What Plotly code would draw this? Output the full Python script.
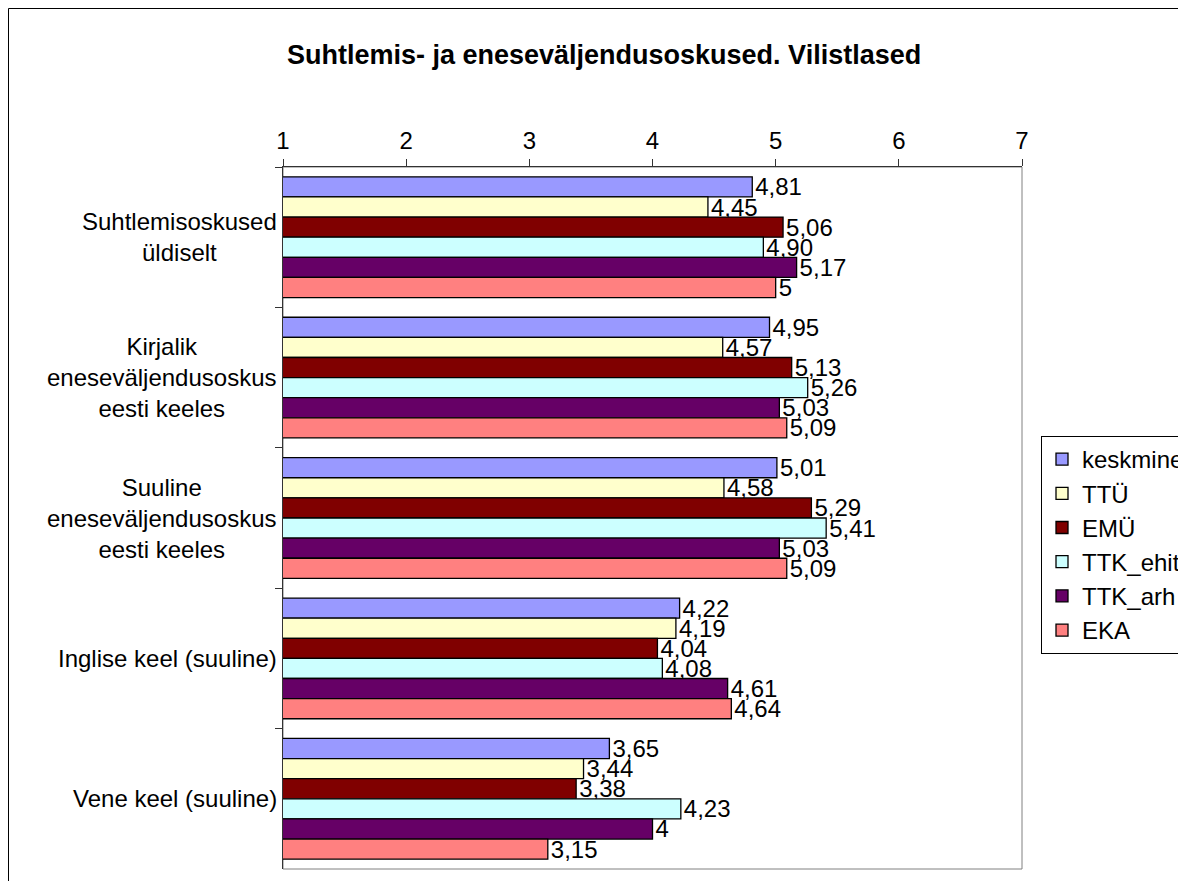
import plotly.graph_objects as go

categories = [
    "Suhtlemisoskused<br>üldiselt",
    "Kirjalik<br>eneseväljendusoskus<br>eesti keeles",
    "Suuline<br>eneseväljendusoskus<br>eesti keeles",
    "Inglise keel (suuline)",
    "Vene keel (suuline)",
]
series_names = ["keskmine", "TTÜ", "EMÜ", "TTK_ehit", "TTK_arh", "EKA"]
keskmine = [4.81, 4.95, 5.01, 4.22, 3.65]
ttu = [4.45, 4.57, 4.58, 4.19, 3.44]
emu = [5.06, 5.13, 5.29, 4.04, 3.38]
ttk_ehit = [4.90, 5.26, 5.41, 4.08, 4.23]
ttk_arh = [5.17, 5.03, 5.03, 4.61, 4.00]
eka = [5.00, 5.09, 5.09, 4.64, 3.15]
series_values = [keskmine, ttu, emu, ttk_ehit, ttk_arh, eka]
colors = ["#9999FF", "#FFFFCC", "#800000", "#CCFFFF", "#660066", "#FF8080"]
x_ticks = [1, 2, 3, 4, 5, 6, 7]


def fmt(v):
    if abs(v - round(v)) < 1e-9:
        return str(int(round(v)))
    return f"{v:.2f}".replace(".", ",")


FONT = "Liberation Sans, Arial, sans-serif"
FS = 24
W, H = 1178, 873

fig = go.Figure()
for i, (name, vals) in enumerate(zip(series_names, series_values)):
    fig.add_trace(go.Bar(
        name=name, y=categories, x=vals, orientation="h",
        marker=dict(color=colors[i], line=dict(color="black", width=1.3)),
        text=[fmt(v) for v in vals], textposition="outside",
        textfont=dict(family=FONT, size=FS, color="black"),
        constraintext="none", cliponaxis=False,
        legendgroup=name,
    ))

for c in categories:
    fig.add_annotation(
        x=0, xref="paper", xshift=-4, y=c, yref="y",
        text=c, showarrow=False, xanchor="right", align="center",
        font=dict(family=FONT, size=FS, color="black"),
    )

fig.update_layout(
    width=W, height=H,
    margin=dict(l=275, r=164, t=159, b=12, autoexpand=False),
    paper_bgcolor="white", plot_bgcolor="white",
    barmode="group", bargap=0.14, bargroupgap=0,
    font=dict(family=FONT, size=FS, color="black"),
    title=dict(text="<b>Suhtlemis- ja eneseväljendusoskused. Vilistlased</b>",
               x=0.506, xanchor="center", y=1 - 47 / H, yanchor="middle",
               font=dict(family=FONT, size=27, color="black")),
    showlegend=True,
    legend=dict(xref="container", yref="container",
                x=1033 / W, y=1 - 428 / H, xanchor="left", yanchor="top",
                bordercolor="black", borderwidth=1, bgcolor="white",
                font=dict(family=FONT, size=FS, color="black"),
                tracegroupgap=0, traceorder="normal",
                itemwidth=30),
    xaxis=dict(side="top", range=[1, 7], tickvals=x_ticks,
               ticktext=[str(t) for t in x_ticks],
               showgrid=False, zeroline=False, showline=True,
               linecolor="#333333", linewidth=1,
               ticks="outside", ticklen=7, tickcolor="#333333",
               tickfont=dict(family=FONT, size=FS, color="black")),
    yaxis=dict(autorange="reversed", showticklabels=False,
               showgrid=False, zeroline=False, showline=True,
               linecolor="#333333", linewidth=1,
               ticks="outside", ticklen=7, tickcolor="#333333",
               tickson="boundaries"),
)

fig.add_shape(type="rect", xref="x domain", yref="y domain",
              x0=0, x1=1, y0=0, y1=1, line=dict(color="#808080", width=1),
              layer="below")
fig.add_shape(type="rect", xref="paper", yref="paper",
              x0=(0.5 - 275) / 739, x1=1.3, y0=-0.05, y1=1 + (159 - 0.5) / 702,
              line=dict(color="black", width=1), layer="below")

fig.write_html("out.html")
